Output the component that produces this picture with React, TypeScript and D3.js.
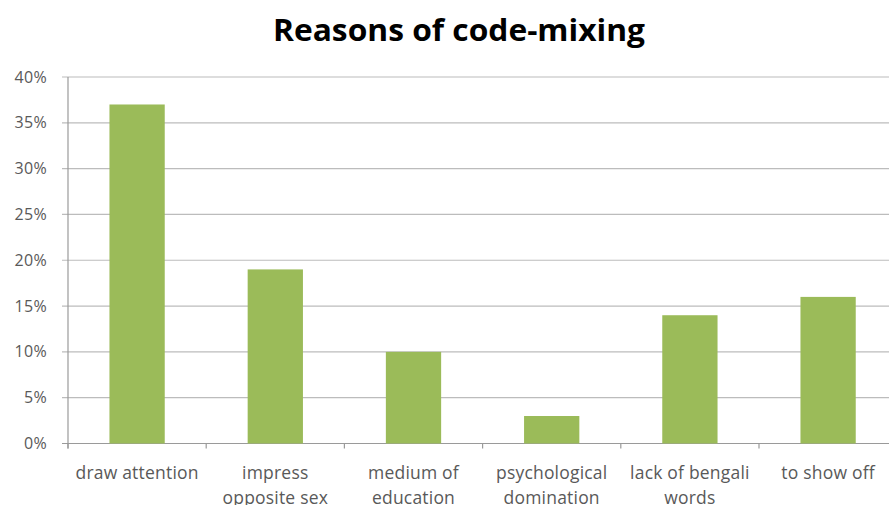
import React from "react";
import * as d3 from "d3";

const categories: string[][] = [
  ["draw attention"],
  ["impress", "opposite sex"],
  ["medium of", "education"],
  ["psychological", "domination"],
  ["lack of bengali", "words"],
  ["to show off"],
];
const values = [0.37, 0.19, 0.1, 0.03, 0.14, 0.16];
const yTicks = [0, 0.05, 0.1, 0.15, 0.2, 0.25, 0.3, 0.35, 0.4];
const title = "Reasons of code-mixing";

export default function App() {
  const W = 889, H = 505;
  const left = 68, top = 77, bottom = 443.5;
  const step = 138.2;
  const x = d3
    .scaleBand<number>()
    .domain(d3.range(categories.length))
    .range([left, left + step * categories.length])
    .paddingInner(0.6)
    .paddingOuter(0.3);
  const y = d3.scaleLinear().domain([0, 0.4]).range([bottom, top]);
  const font = "'Open Sans', sans-serif";
  const fmt = d3.format(".0%");
  return (
    <svg
      width={W}
      height={H}
      style={{ position: "absolute", left: 0, top: 0, background: "#fff" }}
      fontFamily={font}
    >
      <text
        x={459}
        y={41}
        textAnchor="middle"
        fontSize={31}
        fontWeight="bold"
        fill="#000"
        textLength={372}
        lengthAdjust="spacingAndGlyphs"
      >
        {title}
      </text>
      {yTicks.map((t) => (
        <g key={t}>
          <line
            x1={left - 6}
            x2={W}
            y1={y(t)}
            y2={y(t)}
            stroke={t === 0 ? "#9a9a9a" : "#bcbcbc"}
            strokeWidth={1.2}
          />
          <text
            x={47}
            y={y(t)}
            dy="0.35em"
            textAnchor="end"
            fontSize={16}
            fill="#595959"
            letterSpacing={0.3}
          >
            {fmt(t)}
          </text>
        </g>
      ))}
      <line x1={left} x2={left} y1={top} y2={bottom + 5} stroke="#9a9a9a" strokeWidth={1.2} />
      {d3.range(categories.length + 1).map((i) => (
        <line
          key={i}
          x1={left + i * step}
          x2={left + i * step}
          y1={bottom}
          y2={bottom + 5}
          stroke="#9a9a9a"
          strokeWidth={1.2}
        />
      ))}
      {values.map((v, i) => (
        <rect
          key={i}
          x={x(i)}
          y={y(v)}
          width={x.bandwidth()}
          height={y(0) - y(v)}
          fill="#9BBB59"
        />
      ))}
      {categories.map((lines, i) => (
        <text
          key={i}
          x={(x(i) as number) + x.bandwidth() / 2}
          y={479}
          textAnchor="middle"
          fontSize={17.5}
          fill="#595959"
          letterSpacing={0.2}
        >
          {lines.map((l, j) => (
            <tspan key={j} x={(x(i) as number) + x.bandwidth() / 2} dy={j === 0 ? 0 : 25}>
              {l}
            </tspan>
          ))}
        </text>
      ))}
    </svg>
  );
}
